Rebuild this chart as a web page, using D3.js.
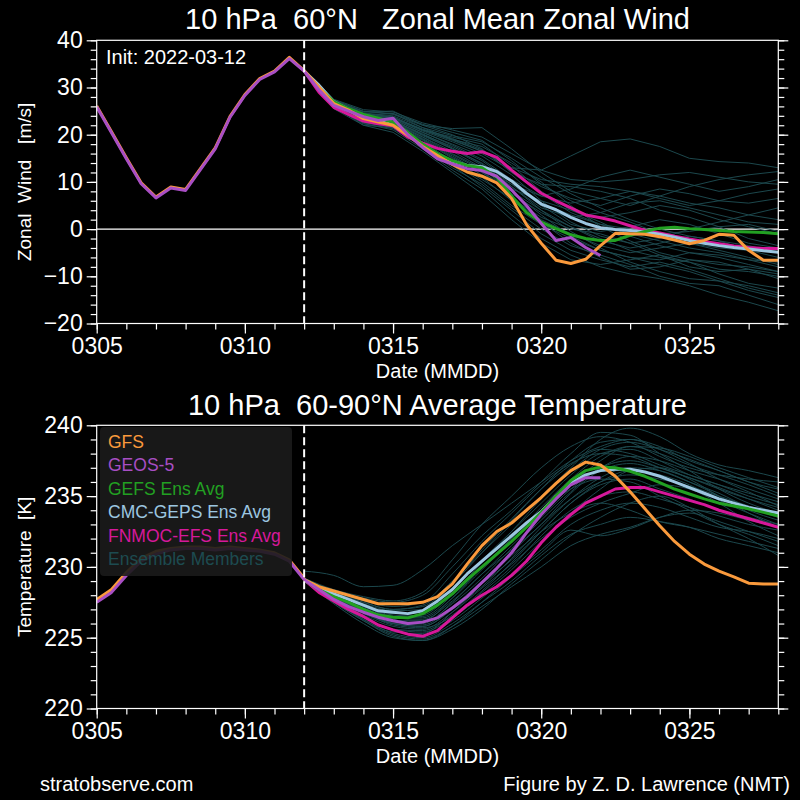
<!DOCTYPE html>
<html><head><meta charset="utf-8">
<script src="https://cdn.jsdelivr.net/npm/d3@7"></script>
<style>
body{margin:0;background:#000}
svg{display:block}
text{font-family:"Liberation Sans",Arial,Helvetica,sans-serif;fill:#fff;white-space:pre}
</style>
</head><body><svg id="c" width="800" height="800"></svg>
<script>
// ---------------- DATA ----------------
const analysisStart = "2022-03-05T00:00Z";
const forecastStart = "2022-03-12T00:00Z";
const axisEnd = "2022-03-28T00:00Z";
const mainStepHours = 12;
const memberStepHours = 24;

const windTicks = [-20, -10, 0, 10, 20, 30, 40];
const tempTicks = [220, 225, 230, 235, 240];
const dateTicks = ["2022-03-05", "2022-03-10", "2022-03-15", "2022-03-20", "2022-03-25"];

const seriesNames = ["GFS", "GEOS-5", "GEFS Ens Avg", "CMC-GEPS Ens Avg", "FNMOC-EFS Ens Avg", "Ensemble Members"];
const seriesColors = ["#fa9a3c", "#a84ec4", "#22a022", "#9cc6e0", "#d6189a", "#1d4b50"];

// Zonal wind (m/s), analysis 0305-0312 every 12 h
const windGFSAnalysis  = [26.1, 20.6, 15.1, 9.8, 6.8, 8.9, 8.4, 12.8, 17.2, 23.9, 28.5, 31.9, 33.5, 36.4, 33.6];
const windGEOSAnalysis = [25.9, 20.4, 14.9, 9.6, 6.6, 8.7, 8.2, 12.6, 17.0, 23.7, 28.3, 31.7, 33.3, 36.1, 33.5];
// Zonal wind forecasts from 0312, every 12 h
const windGFS   = [33.6, 30.1, 26.6, 25.2, 23.4, 22.7, 22.0, 19.9, 17.5, 15.6, 13.7, 12.1, 11.2, 9.8, 6.5, 1.0, -3.0, -6.6, -7.3, -6.4, -3.5, -0.9, -1.0, -1.1, -1.6, -2.3, -3.1, -2.4, -1.1, -1.3, -4.5, -6.6, -6.6];
const windGEOS  = [33.5, 29.5, 26.2, 25.0, 23.8, 23.0, 23.5, 20.0, 17.3, 14.9, 13.8, 12.8, 12.4, 11.2, 8.3, 5.0, 1.2, -2.4, -1.8, -3.9, -5.6];
const windGEFS  = [33.5, 30.0, 27.0, 25.5, 24.3, 23.5, 22.6, 20.5, 18.0, 16.0, 14.5, 13.5, 13.0, 11.0, 7.0, 3.5, 1.5, 0.1, -1.2, -2.0, -2.4, -2.4, -1.3, -0.5, 0.2, 0.4, 0.1, -0.1, -0.3, -0.5, -0.6, -0.7, -1.0];
const windCMC   = [33.5, 30.5, 27.0, 25.3, 24.0, 23.3, 22.6, 20.2, 17.5, 15.6, 14.4, 13.5, 13.2, 12.2, 10.2, 7.6, 5.3, 4.1, 2.5, 1.2, 0.3, -0.1, -0.3, -0.6, -1.1, -1.7, -2.4, -3.0, -3.5, -3.9, -4.2, -4.6, -4.9];
const windFNMOC = [33.5, 29.0, 25.8, 24.3, 22.9, 22.3, 21.9, 19.5, 18.2, 17.1, 16.5, 16.0, 16.4, 15.2, 12.5, 10.0, 7.6, 6.0, 4.5, 3.0, 2.4, 1.7, 0.7, -0.3, -0.8, -1.5, -2.1, -2.6, -3.1, -3.6, -3.9, -4.1, -4.1];
// Zonal wind ensemble members, daily from 0312 to 0328
const windMembers = [
  [33.6, 27.0, 24.2, 24.5, 21.5, 19.0, 16.5, 13.0, 12.5, 15.5, 18.5, 19.1, 17.5, 15.0, 14.3, 14.0, 13.0],
  [33.4, 26.5, 23.5, 22.5, 19.5, 16.5, 13.0, 9.5, 7.0, 8.5, 11.0, 12.5, 11.0, 9.5, 8.0, 9.0, 10.5],
  [33.8, 27.2, 24.8, 25.0, 22.0, 21.3, 21.5, 17.0, 12.0, 8.0, 6.5, 5.0, 7.0, 9.0, 10.5, 11.5, 12.2],
  [33.5, 26.0, 22.0, 21.5, 18.0, 14.0, 10.0, 5.0, 1.0, -2.0, -4.5, -6.0, -7.5, -9.0, -11.0, -13.0, -14.5],
  [33.6, 26.8, 23.8, 23.0, 20.0, 17.5, 14.5, 10.0, 5.5, 3.0, 1.0, -1.0, -2.5, -4.0, -5.0, -6.5, -8.0],
  [33.7, 27.1, 24.5, 23.8, 21.0, 19.5, 18.0, 13.5, 8.0, 4.0, 2.5, 3.5, 5.0, 4.0, 2.0, 0.5, -1.0],
  [33.3, 25.8, 22.4, 21.0, 17.0, 12.5, 8.5, 3.0, -2.0, -5.5, -8.0, -9.5, -10.5, -12.0, -14.0, -15.5, -17.3],
  [33.6, 26.7, 23.9, 23.2, 20.5, 18.0, 15.5, 11.5, 6.0, 1.5, -1.5, -3.0, -2.0, 0.0, 1.5, 3.0, 4.5],
  [33.5, 26.4, 23.2, 22.3, 19.0, 15.5, 12.0, 7.5, 3.5, 0.5, -2.0, -4.5, -6.0, -7.0, -8.5, -9.0, -10.0],
  [33.8, 27.4, 25.0, 24.3, 22.0, 20.0, 17.0, 12.0, 9.5, 9.0, 8.0, 6.5, 4.0, 2.5, 0.5, -2.0, -3.5],
  [33.4, 26.2, 22.8, 22.0, 18.5, 14.5, 11.0, 6.0, 2.0, -1.0, -3.5, -5.0, -4.0, -3.0, -4.5, -6.0, -7.5],
  [33.6, 26.9, 24.0, 23.5, 20.8, 18.5, 16.0, 12.5, 9.0, 6.5, 5.0, 7.0, 8.5, 7.5, 6.0, 5.5, 6.5],
  [33.7, 27.0, 24.3, 23.5, 21.0, 19.0, 17.5, 14.0, 10.0, 5.0, 0.5, -2.5, -5.0, -6.5, -7.5, -8.0, -9.0],
  [33.2, 25.5, 22.0, 20.5, 16.5, 12.0, 7.5, 2.0, -3.0, -6.5, -7.5, -6.5, -5.5, -7.0, -9.5, -11.5, -12.5],
  [33.6, 26.6, 23.6, 22.8, 19.8, 17.0, 13.5, 9.0, 4.5, 2.5, 3.5, 5.5, 6.0, 4.5, 3.0, 1.5, 1.0],
  [33.5, 26.3, 23.0, 22.0, 18.8, 15.0, 11.5, 8.0, 4.0, -0.5, -4.0, -7.0, -9.0, -10.5, -11.0, -12.0, -13.5],
  [33.9, 27.5, 25.3, 24.8, 22.5, 21.0, 19.5, 16.0, 12.5, 10.5, 10.0, 10.5, 11.5, 12.0, 11.0, 10.0, 9.5],
  [33.6, 26.8, 23.7, 23.0, 20.0, 17.0, 14.0, 9.5, 5.0, 1.0, -0.5, 0.5, 2.0, 1.0, -1.0, -3.0, -4.0],
  [33.4, 26.1, 22.5, 21.8, 18.0, 14.0, 10.5, 6.5, 2.5, 0.0, -1.0, -3.0, -5.5, -8.0, -9.0, -8.5, -9.5],
  [33.7, 27.2, 24.6, 24.0, 21.5, 19.8, 18.5, 15.0, 11.0, 7.5, 4.5, 2.0, 0.0, -1.5, -2.5, -3.5, -5.0],
  [33.5, 26.5, 23.3, 22.6, 19.2, 15.8, 12.5, 7.0, 1.5, -3.0, -6.0, -8.5, -8.0, -6.5, -7.0, -8.5, -10.5],
  [33.6, 26.9, 24.1, 23.3, 20.5, 17.8, 14.8, 10.5, 7.0, 5.5, 6.5, 8.0, 7.0, 5.5, 4.5, 3.0, 2.0],
  [33.3, 25.9, 22.3, 21.3, 17.5, 13.0, 9.5, 4.5, 0.0, -3.5, -5.5, -7.5, -10.0, -11.5, -12.0, -14.0, -16.0],
  [33.8, 27.3, 24.9, 24.5, 22.2, 20.5, 18.8, 14.5, 9.5, 6.0, 3.5, 1.5, -1.0, -3.0, -4.0, -4.5, -4.0],
  [33.6, 26.7, 23.6, 22.9, 20.2, 17.2, 13.8, 9.0, 4.0, 0.5, -2.5, -4.0, -3.0, -1.5, -2.5, -4.5, -6.0],
  [33.5, 26.4, 23.1, 22.2, 19.0, 15.2, 12.0, 8.5, 6.0, 4.0, 1.5, -1.5, -3.5, -5.0, -6.0, -7.5, -9.0],
  [33.6, 27.0, 24.2, 23.6, 21.2, 19.2, 16.8, 12.0, 7.5, 3.5, 1.0, 0.0, -1.0, -0.5, 0.5, 1.0, -0.5],
  [33.4, 26.0, 22.6, 21.5, 17.8, 13.5, 9.0, 4.0, -1.0, -4.5, -6.5, -8.0, -7.0, -8.5, -10.5, -12.5, -14.0],
  [33.7, 27.1, 24.4, 23.7, 21.0, 18.8, 16.5, 13.0, 10.5, 9.5, 9.0, 8.0, 6.5, 5.0, 6.0, 7.5, 8.5],
  [33.5, 26.6, 23.4, 22.7, 19.5, 16.0, 12.8, 8.0, 3.0, -1.5, -4.5, -6.0, -6.5, -5.0, -5.5, -6.5, -7.0]
];

// Temperature (K), analysis 0305-0312 every 12 h
const tempGFSAnalysis  = [227.7, 228.4, 229.6, 230.6, 231.1, 231.3, 231.4, 231.4, 231.3, 231.4, 231.3, 231.2, 231.0, 230.5, 229.2];
const tempGEOSAnalysis = [227.5, 228.2, 229.4, 230.4, 230.9, 231.2, 231.3, 231.3, 231.2, 231.3, 231.2, 231.1, 230.9, 230.4, 229.1];
// Temperature forecasts from 0312, every 12 h
const tempGFS   = [229.1, 228.6, 228.3, 228.0, 227.7, 227.4, 227.4, 227.4, 227.5, 227.9, 228.8, 230.2, 231.5, 232.5, 233.1, 234.0, 234.9, 235.9, 236.8, 237.4, 237.2, 236.4, 235.3, 234.1, 232.9, 231.8, 230.9, 230.2, 229.7, 229.3, 228.85, 228.8, 228.8];
const tempGEOS  = [229.1, 228.4, 227.7, 227.2, 226.8, 226.45, 226.2, 226.0, 226.1, 226.4, 227.1, 227.9, 228.9, 229.9, 231.0, 232.4, 233.7, 234.8, 235.8, 236.3, 236.3];
const tempGEFS  = [229.1, 228.4, 227.9, 227.5, 227.0, 226.6, 226.45, 226.4, 226.7, 227.3, 228.1, 229.1, 230.0, 230.9, 231.8, 232.8, 233.85, 235.0, 236.1, 236.8, 237.05, 237.0, 236.75, 236.4, 235.95, 235.5, 235.15, 234.8, 234.5, 234.3, 234.1, 233.85, 233.6];
const tempCMC   = [229.1, 228.5, 228.1, 227.7, 227.3, 226.9, 226.8, 226.7, 226.9, 227.6, 228.4, 229.5, 230.4, 231.3, 232.2, 233.1, 233.9, 235.0, 235.9, 236.5, 236.8, 236.9, 236.9, 236.7, 236.4, 236.0, 235.6, 235.2, 234.8, 234.5, 234.2, 234.0, 233.8];
const tempFNMOC = [229.1, 228.2, 227.6, 227.0, 226.5, 225.9, 225.55, 225.25, 225.1, 225.5, 226.4, 227.3, 228.0, 228.6, 229.4, 230.4, 231.7, 232.8, 233.7, 234.5, 235.0, 235.5, 235.6, 235.6, 235.3, 235.0, 234.7, 234.4, 234.0, 233.7, 233.4, 233.1, 232.8];
// Temperature ensemble members, daily from 0312 to 0328
const tempMembers = [
  [229.7, 229.4, 228.6, 228.7, 229.8, 231.5, 233.0, 234.5, 236.0, 237.5, 238.5, 239.0, 238.5, 237.5, 236.8, 236.0, 235.5],
  [229.1, 228.0, 227.2, 226.5, 226.4, 227.8, 229.8, 231.8, 233.8, 235.8, 237.5, 238.5, 238.0, 237.2, 236.5, 235.8, 235.0],
  [229.0, 227.6, 226.3, 225.3, 225.0, 226.0, 227.5, 229.0, 230.8, 232.3, 233.0, 233.5, 233.2, 232.8, 232.0, 231.5, 231.0],
  [229.2, 228.2, 227.5, 227.0, 227.3, 229.0, 231.0, 233.0, 235.0, 237.0, 239.0, 239.8, 239.2, 238.0, 237.2, 236.8, 236.3],
  [229.1, 227.8, 226.8, 226.0, 225.8, 227.0, 228.8, 230.5, 232.5, 234.5, 235.8, 236.2, 235.5, 234.8, 234.0, 233.5, 233.0],
  [229.0, 227.5, 226.2, 225.2, 224.9, 225.8, 227.2, 228.6, 230.0, 231.5, 232.3, 232.8, 233.5, 233.8, 233.2, 232.5, 231.8],
  [229.2, 228.3, 227.8, 227.5, 228.0, 230.0, 232.2, 234.0, 236.0, 238.0, 239.5, 239.3, 238.0, 236.8, 235.5, 234.5, 233.8],
  [229.1, 227.9, 227.0, 226.3, 226.0, 227.5, 229.5, 231.2, 233.0, 235.2, 236.8, 237.3, 236.8, 236.0, 235.2, 234.2, 233.5],
  [229.0, 227.4, 226.0, 225.0, 224.8, 225.6, 227.0, 228.8, 230.5, 232.2, 233.5, 234.5, 235.0, 234.2, 233.0, 232.0, 230.8],
  [229.1, 228.1, 227.3, 226.7, 226.8, 228.5, 230.5, 232.5, 234.5, 236.5, 238.0, 238.3, 237.5, 236.5, 235.8, 235.2, 234.6],
  [229.0, 227.7, 226.6, 225.8, 225.6, 226.8, 228.5, 230.2, 232.0, 233.5, 234.5, 235.2, 235.8, 235.5, 234.5, 233.2, 232.2],
  [229.2, 228.4, 227.9, 227.6, 228.2, 230.5, 233.0, 235.0, 237.0, 238.5, 239.2, 238.8, 237.8, 237.0, 236.5, 236.2, 236.0],
  [229.1, 227.8, 226.9, 226.2, 226.2, 227.8, 230.0, 232.0, 234.0, 235.5, 236.2, 236.0, 235.0, 234.0, 233.0, 232.3, 231.5],
  [229.0, 227.5, 226.4, 225.6, 225.4, 226.4, 228.0, 229.8, 231.8, 233.8, 235.5, 236.8, 237.0, 236.2, 235.0, 234.0, 233.3],
  [229.1, 228.0, 227.1, 226.4, 226.3, 227.6, 229.5, 231.5, 233.5, 235.5, 237.0, 237.8, 237.5, 236.8, 236.2, 235.5, 234.8],
  [229.1, 227.9, 226.8, 225.9, 225.7, 226.5, 228.2, 230.0, 232.2, 234.0, 235.0, 235.3, 234.8, 234.2, 233.6, 233.0, 232.6],
  [229.2, 228.2, 227.4, 226.9, 227.0, 228.8, 231.0, 233.3, 235.5, 237.5, 238.8, 239.0, 238.3, 237.3, 236.2, 235.3, 234.3],
  [229.0, 227.6, 226.5, 225.5, 225.2, 226.2, 227.8, 229.5, 231.2, 233.0, 234.0, 234.5, 234.2, 233.5, 232.8, 232.5, 232.0],
  [229.1, 228.1, 227.2, 226.6, 226.5, 228.0, 230.0, 232.0, 234.2, 236.2, 237.8, 238.5, 238.4, 237.8, 237.0, 236.3, 235.6],
  [229.1, 227.8, 226.7, 226.0, 225.9, 227.2, 229.0, 231.0, 233.0, 234.8, 236.0, 236.5, 236.2, 235.7, 235.0, 234.3, 233.7],
  [229.0, 227.6, 226.3, 225.4, 225.3, 226.8, 228.8, 230.8, 232.5, 233.8, 234.5, 234.0, 233.2, 232.8, 232.3, 231.8, 231.3],
  [229.2, 228.3, 227.6, 227.2, 227.5, 229.5, 231.8, 233.8, 235.8, 237.3, 238.0, 237.8, 237.0, 236.3, 235.6, 234.8, 234.0],
  [229.1, 227.9, 226.9, 226.1, 226.1, 227.4, 229.2, 231.3, 233.3, 235.3, 237.0, 237.5, 237.0, 236.3, 235.5, 234.8, 234.2],
  [229.0, 227.7, 226.5, 225.6, 225.5, 226.6, 228.3, 230.3, 232.5, 234.5, 236.0, 236.8, 236.5, 235.8, 234.7, 233.8, 233.0],
  [229.1, 228.0, 227.1, 226.5, 226.6, 228.2, 230.3, 232.5, 234.8, 236.8, 238.3, 238.8, 238.3, 237.6, 236.8, 236.0, 235.2],
  [229.0, 227.5, 226.2, 225.1, 224.8, 225.8, 227.5, 229.3, 231.0, 232.6, 232.2, 232.7, 233.5, 234.0, 233.8, 233.3, 232.8],
  [229.2, 228.2, 227.5, 227.0, 227.2, 228.9, 231.2, 233.4, 235.5, 237.2, 238.3, 238.0, 237.2, 236.5, 235.8, 235.0, 234.4],
  [229.1, 227.8, 226.8, 226.0, 225.8, 227.0, 228.6, 230.6, 232.8, 234.8, 236.3, 237.0, 236.8, 236.0, 235.0, 233.8, 232.8]
];

// ---------------- DRAWING ----------------
const svg = d3.select("#c");
svg.append("rect").attr("width", 800).attr("height", 800).attr("fill", "#000");

const FONT = '"Liberation Sans",Arial,Helvetica,sans-serif';
const L = 96.7, R = 778.3;
const parse = s => new Date(s);
const x = d3.scaleUtc().domain([parse(analysisStart), parse(axisEnd)]).range([L, R]);
const timeAt = (start, stepH) => i => new Date(parse(start).getTime() + i * stepH * 3600e3);

function drawPanel(cfg) {
  const { y, top, bottom, id } = cfg;
  const g = svg.append("g");
  g.append("clipPath").attr("id", id).append("rect")
    .attr("x", L).attr("y", top).attr("width", R - L).attr("height", bottom - top);
  const plot = g.append("g").attr("clip-path", `url(#${id})`);

  if (cfg.zeroLine) {
    plot.append("line").attr("x1", L).attr("x2", R).attr("y1", y(0)).attr("y2", y(0))
      .attr("stroke", "#fff").attr("stroke-width", 1.2);
  }

  const lineFor = (start, stepH, curve) => d3.line()
    .x((d, i) => x(timeAt(start, stepH)(i))).y(d => y(d)).curve(curve || d3.curveLinear);

  const mLine = lineFor(forecastStart, memberStepHours, cfg.memberCurve);
  plot.append("g").selectAll("path").data(cfg.members).join("path")
    .attr("d", mLine).attr("fill", "none")
    .attr("stroke", seriesColors[5]).attr("stroke-width", 1).attr("stroke-opacity", 0.95);

  const fLine = lineFor(forecastStart, mainStepHours);
  const aLine = lineFor(analysisStart, mainStepHours);
  // draw order: ensemble means, then GFS, then GEOS-5
  const order = [[cfg.fnmoc, 4], [cfg.cmc, 3], [cfg.gefs, 2], [cfg.gfs, 0], [cfg.geos, 1]];
  order.forEach(([vals, ci]) => {
    plot.append("path").attr("d", fLine(vals)).attr("fill", "none")
      .attr("stroke", seriesColors[ci]).attr("stroke-width", 3).attr("stroke-linejoin", "round");
  });
  plot.append("path").attr("d", aLine(cfg.gfsA)).attr("fill", "none")
    .attr("stroke", seriesColors[0]).attr("stroke-width", 3).attr("stroke-linejoin", "round");
  plot.append("path").attr("d", aLine(cfg.geosA)).attr("fill", "none")
    .attr("stroke", seriesColors[1]).attr("stroke-width", 3).attr("stroke-linejoin", "round");

  // init dashed line
  const xi = x(parse(forecastStart));
  g.append("line").attr("x1", xi).attr("x2", xi).attr("y1", top).attr("y2", bottom)
    .attr("stroke", "#fff").attr("stroke-width", 2).attr("stroke-dasharray", "8,4");

  // frame
  g.append("rect").attr("x", L).attr("y", top).attr("width", R - L).attr("height", bottom - top)
    .attr("fill", "none").attr("stroke", "#fff").attr("stroke-width", 1.2);

  const styleAxis = a => {
    a.select(".domain").remove();
    a.selectAll("line").attr("stroke", "#fff").attr("stroke-width", 1.2);
    a.selectAll("text").attr("fill", "#fff").style("font-family", FONT).style("font-size", "23px");
  };
  const [y0, y1] = y.domain();
  const minors = d3.range(y0, y1 + 0.001, cfg.minorStep);
  g.append("g").attr("transform", `translate(${L},0)`)
    .call(d3.axisLeft(y).tickValues(minors).tickSize(6).tickFormat("")).call(styleAxis);
  g.append("g").attr("transform", `translate(${L},0)`)
    .call(d3.axisLeft(y).tickValues(cfg.ticks).tickSize(10).tickPadding(4)).call(styleAxis);
  g.append("g").attr("transform", `translate(${R},0)`)
    .call(d3.axisRight(y).tickValues(minors).tickSize(6).tickFormat("")).call(styleAxis);
  g.append("g").attr("transform", `translate(${R},0)`)
    .call(d3.axisRight(y).tickValues(cfg.ticks).tickSize(10).tickFormat("")).call(styleAxis);

  const days = d3.utcDay.range(parse(analysisStart), new Date(parse(axisEnd).getTime() + 1));
  g.append("g").attr("transform", `translate(0,${bottom})`)
    .call(d3.axisBottom(x).tickValues(days).tickSize(6).tickFormat("")).call(styleAxis);
  g.append("g").attr("transform", `translate(0,${bottom})`)
    .call(d3.axisBottom(x).tickValues(dateTicks.map(d => parse(d + "T00:00Z")))
      .tickSize(10).tickPadding(4).tickFormat(d3.utcFormat("%m%d"))).call(styleAxis);

  // texts
  svg.append("text").attr("x", (L + R) / 2).attr("y", cfg.titleY).attr("text-anchor", "middle")
    .style("font-size", "29px").text(cfg.title);
  svg.append("text").attr("x", (L + R) / 2).attr("y", bottom + 54).attr("text-anchor", "middle")
    .style("font-size", "20px").text("Date (MMDD)");
  svg.append("text").attr("transform", `translate(31,${(top + bottom) / 2}) rotate(-90)`)
    .attr("text-anchor", "middle").style("font-size", "19px").text(cfg.ylabel);
  return g;
}

const yW = d3.scaleLinear().domain([-20, 40]).range([323.5, 40.3]);
const yT = d3.scaleLinear().domain([220, 240]).range([708.5, 425.3]);

drawPanel({
  id: "clipW", y: yW, top: 40.3, bottom: 323.5, ticks: windTicks, minorStep: 2, zeroLine: true,
  members: windMembers, gfs: windGFS, geos: windGEOS, gefs: windGEFS, cmc: windCMC, fnmoc: windFNMOC,
  gfsA: windGFSAnalysis, geosA: windGEOSAnalysis,
  title: "10 hPa  60°N   Zonal Mean Zonal Wind", titleY: 29, ylabel: "Zonal  Wind   [m/s]"
});
drawPanel({
  id: "clipT", y: yT, top: 425.3, bottom: 708.5, ticks: tempTicks, minorStep: 1, zeroLine: false,
  memberCurve: d3.curveMonotoneX,
  members: tempMembers, gfs: tempGFS, geos: tempGEOS, gefs: tempGEFS, cmc: tempCMC, fnmoc: tempFNMOC,
  gfsA: tempGFSAnalysis, geosA: tempGEOSAnalysis,
  title: "10 hPa  60-90°N Average Temperature", titleY: 415, ylabel: "Temperature  [K]"
});

// Init label
svg.append("text").attr("x", 106).attr("y", 64).style("font-size", "20px").text("Init: 2022-03-12");

// Legend
const lg = svg.append("g");
lg.append("rect").attr("x", 100).attr("y", 427).attr("width", 192).attr("height", 149).attr("rx", 4)
  .attr("fill", "#1b1b1b").attr("fill-opacity", 0.9);
seriesNames.forEach((n, i) => {
  lg.append("text").attr("x", 108).attr("y", 448 + i * 23.4).style("font-size", "17.5px")
    .style("fill", seriesColors[i]).text(n);
});

// Footer
svg.append("text").attr("x", 40).attr("y", 791).style("font-size", "20px").text("stratobserve.com");
svg.append("text").attr("x", 790).attr("y", 791).attr("text-anchor", "end").style("font-size", "20px")
  .text("Figure by Z. D. Lawrence (NMT)");
</script>
</body></html>
